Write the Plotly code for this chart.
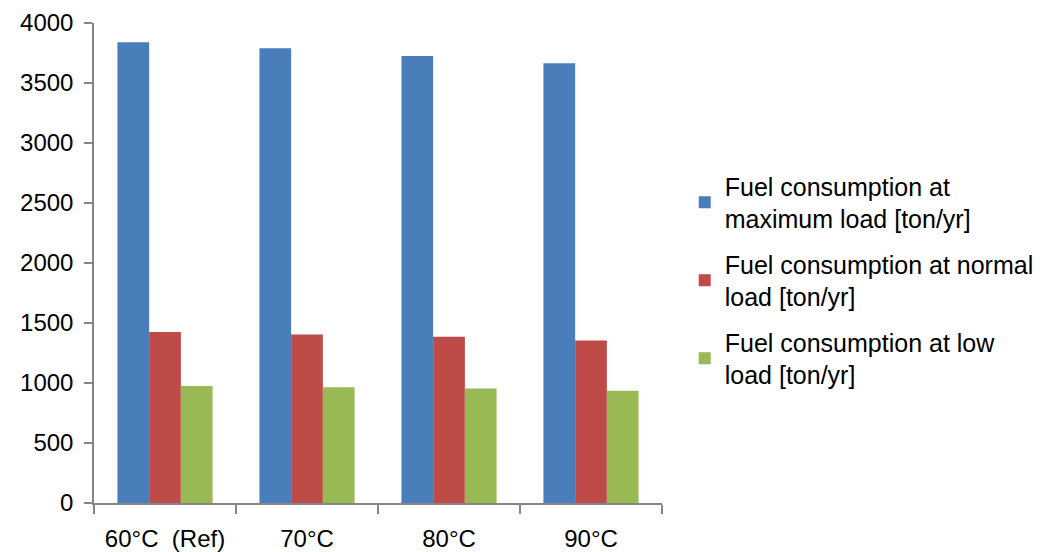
import plotly.graph_objects as go

categories = ["60°C  (Ref)", "70°C", "80°C", "90°C"]
max_load = [3840, 3790, 3725, 3665]
normal_load = [1425, 1405, 1385, 1355]
low_load = [975, 965, 955, 935]

series_names = [
    "Fuel consumption at<br>maximum load [ton/yr]",
    "Fuel consumption at normal<br>load [ton/yr]",
    "Fuel consumption at low<br>load [ton/yr]",
]
colors = ["#4A7EBB", "#BE4B48", "#98B954"]

fig = go.Figure()
for i, (name, vals, col) in enumerate(zip(series_names, [max_load, normal_load, low_load], colors)):
    fig.add_trace(go.Bar(
        x=categories, y=vals, name=name, legendgroup=f"g{i}",
        marker=dict(color=col, line=dict(width=0)),
    ))

axis_color = "#868686"
font_family = "Liberation Sans, Arial, sans-serif"

fig.update_layout(
    width=1056,
    height=552,
    margin=dict(l=94, r=394, t=23, b=49),
    paper_bgcolor="white",
    plot_bgcolor="white",
    barmode="group",
    bargap=0.33,
    bargroupgap=0,
    font=dict(family=font_family, size=24, color="#000000"),
    legend=dict(
        x=1.04,
        y=0.708,
        xanchor="left",
        yanchor="top",
        font=dict(size=25),
        tracegroupgap=10,
        itemwidth=30,
        bgcolor="rgba(0,0,0,0)",
    ),
    xaxis=dict(
        automargin=False,
        showline=True,
        linecolor=axis_color,
        linewidth=1.5,
        ticks="outside",
        tickson="boundaries",
        ticklen=9,
        tickcolor=axis_color,
        tickwidth=1.5,
        showgrid=False,
        tickfont=dict(size=24),
        ticklabelstandoff=13,
    ),
    yaxis=dict(
        automargin=False,
        range=[0, 4000],
        dtick=500,
        showline=True,
        linecolor=axis_color,
        linewidth=1.5,
        ticks="outside",
        ticklen=8,
        tickcolor=axis_color,
        tickwidth=1.5,
        showgrid=False,
        zeroline=False,
        tickfont=dict(size=24),
        ticklabelstandoff=6,
    ),
)

fig.write_html("out.html")
